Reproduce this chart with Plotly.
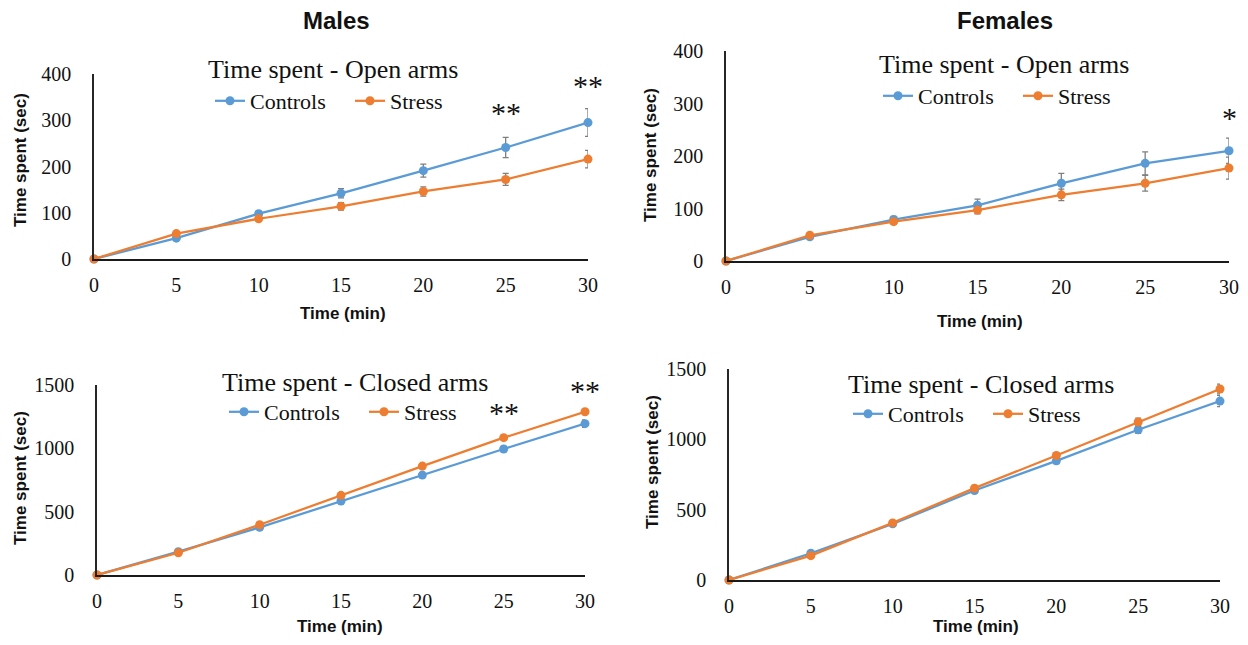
import plotly.graph_objects as go

# ---------------- data ----------------
time_min = [0, 5, 10, 15, 20, 25, 30]

male_open_controls = [0, 45, 98, 142, 191, 241, 295]
male_open_controls_err = [0, 3, 5, 10, 14, 22, 30]
male_open_stress = [0, 55, 87, 114, 146, 172, 216]
male_open_stress_err = [0, 4, 5, 8, 10, 13, 19]

female_open_controls = [0, 46, 79, 106, 148, 186, 210]
female_open_controls_err = [0, 4, 6, 12, 19, 22, 24]
female_open_stress = [0, 49, 75, 97, 126, 148, 177]
female_open_stress_err = [0, 4, 5, 7, 11, 15, 21]

male_closed_controls = [0, 184, 376, 584, 789, 995, 1195]
male_closed_controls_err = [0, 8, 10, 12, 15, 20, 30]
male_closed_stress = [0, 176, 397, 629, 860, 1084, 1289]
male_closed_stress_err = [0, 8, 10, 12, 14, 15, 15]

female_closed_controls = [0, 190, 399, 636, 847, 1068, 1272]
female_closed_controls_err = [0, 8, 12, 15, 20, 25, 40]
female_closed_stress = [0, 173, 406, 653, 885, 1123, 1358]
female_closed_stress_err = [0, 8, 12, 15, 18, 28, 35]

series_names = ["Controls", "Stress"]
group_titles = ["Males", "Females"]
panel_titles = ["Time spent - Open arms", "Time spent - Open arms",
                "Time spent - Closed arms", "Time spent - Closed arms"]
y_title = "Time spent (sec)"
x_title = "Time (min)"

# significance marks: (panel index, x, y, text)
sig_marks = [(0, 25, 316, "**"), (0, 30, 376, "**"),
             (1, 30, 274, "*"),
             (2, 25, 1280, "**"), (2, 30, 1455, "**")]

# ---------------- styling / layout ----------------
WIN_W, WIN_H = 1248, 645
OFF = 8  # default page body margin
W, H = WIN_W - 2 * OFF, WIN_H - 2 * OFF
BLUE = "#5B9BD5"
ORANGE = "#ED7D31"
ERR = "#7F7F7F"
SERIF = "Liberation Serif, Times New Roman, serif"
SANS = "Liberation Sans, Arial, sans-serif"

def px(x):
    return (x - OFF) / W

def py(y):
    return 1 - (y - OFF) / H

# panel pixel boxes (window pixels): x0, x1, ytop, ybottom
boxes = [(94, 588, 74, 259), (726, 1229, 51, 261),
         (97, 585, 385, 575), (729, 1220, 369, 580)]
yranges = [400, 400, 1500, 1500]
ydticks = [100, 100, 500, 500]

panels = [
    (male_open_controls, male_open_controls_err, male_open_stress, male_open_stress_err),
    (female_open_controls, female_open_controls_err, female_open_stress, female_open_stress_err),
    (male_closed_controls, male_closed_controls_err, male_closed_stress, male_closed_stress_err),
    (female_closed_controls, female_closed_controls_err, female_closed_stress, female_closed_stress_err),
]

# legend placement (pixel left, pixel center y), chart title (cx, cy), ytitle (x, cy), xtitle (cx, cy)
legend_pos = [(210, 101), (878, 96), (224, 412), (848, 414)]
title_pos = [(333, 70), (1004, 65), (355, 382), (981, 384)]
ytitle_pos = [(20, 160), (651, 155), (20, 478), (652, 462)]
xtitle_pos = [(343, 313), (980, 322), (340, 626), (976, 626)]
group_pos = [(336, 20), (1005, 20)]

fig = go.Figure()
annotations = []

for i, (c, ce, s, se) in enumerate(panels):
    n = "" if i == 0 else str(i + 1)
    xa, ya = "x" + n, "y" + n
    leg = "legend" + n
    for name, vals, errs, color in [(series_names[0], c, ce, BLUE),
                                    (series_names[1], s, se, ORANGE)]:
        fig.add_trace(go.Scatter(
            x=time_min, y=vals, name=name, mode="lines+markers",
            line=dict(color=color, width=2.25),
            marker=dict(color=color, size=9),
            error_y=dict(type="data", array=errs, visible=True,
                         color=ERR, thickness=1.3, width=3),
            xaxis=xa, yaxis=ya, legend=leg, cliponaxis=False,
        ))
    x0, x1, yt, yb = boxes[i]
    fig.layout["xaxis" + n] = dict(
        domain=[px(x0), px(x1)], range=[0, 30], anchor=ya,
        tickmode="linear", tick0=0, dtick=5,
        showline=True, linecolor="#1a1a1a", linewidth=2,
        showgrid=False, zeroline=False, ticks="",
        ticklabelstandoff=7,
        tickfont=dict(family=SERIF, size=20, color="#111"),
    )
    fig.layout["yaxis" + n] = dict(
        domain=[py(yb), py(yt)], range=[0, yranges[i]], anchor=xa,
        tickmode="linear", tick0=0, dtick=ydticks[i],
        showline=True, linecolor="#262626", linewidth=1.5,
        showgrid=False, zeroline=False, ticks="",
        ticklabelstandoff=17,
        tickfont=dict(family=SERIF, size=20, color="#111"),
    )
    lx, ly = legend_pos[i]
    fig.layout[leg] = dict(
        x=px(lx), y=py(ly), xanchor="left", yanchor="middle",
        orientation="h", bgcolor="rgba(0,0,0,0)",
        font=dict(family=SERIF, size=22, color="#111"),
        entrywidth=95, itemwidth=30, tracegroupgap=0,
    )
    tx, ty = title_pos[i]
    annotations.append(dict(text=panel_titles[i], x=px(tx), y=py(ty),
                            xref="paper", yref="paper", showarrow=False,
                            xanchor="center", yanchor="middle",
                            font=dict(family=SERIF, size=26, color="#111")))
    yx, yy = ytitle_pos[i]
    annotations.append(dict(text="<b>" + y_title + "</b>", x=px(yx), y=py(yy),
                            xref="paper", yref="paper", showarrow=False,
                            textangle=-90, xanchor="center", yanchor="middle",
                            font=dict(family=SANS, size=17, color="#111")))
    xx, xy = xtitle_pos[i]
    annotations.append(dict(text="<b>" + x_title + "</b>", x=px(xx), y=py(xy),
                            xref="paper", yref="paper", showarrow=False,
                            xanchor="center", yanchor="middle",
                            font=dict(family=SANS, size=17, color="#111")))

for (gx, gy), gt in zip(group_pos, group_titles):
    annotations.append(dict(text="<b>" + gt + "</b>", x=px(gx), y=py(gy),
                            xref="paper", yref="paper", showarrow=False,
                            xanchor="center", yanchor="middle",
                            font=dict(family=SANS, size=24, color="#111")))

for (pi, sx, sy, st) in sig_marks:
    n = "" if pi == 0 else str(pi + 1)
    annotations.append(dict(text=st, x=sx, y=sy, xref="x" + n, yref="y" + n,
                            showarrow=False, xanchor="center", yanchor="middle",
                            font=dict(family=SERIF, size=30, color="#111")))

fig.update_layout(
    width=W, height=H,
    margin=dict(l=0, r=0, t=0, b=0, pad=0, autoexpand=False),
    paper_bgcolor="white", plot_bgcolor="white",
    annotations=annotations, showlegend=True,
)

fig.write_html("out.html")
